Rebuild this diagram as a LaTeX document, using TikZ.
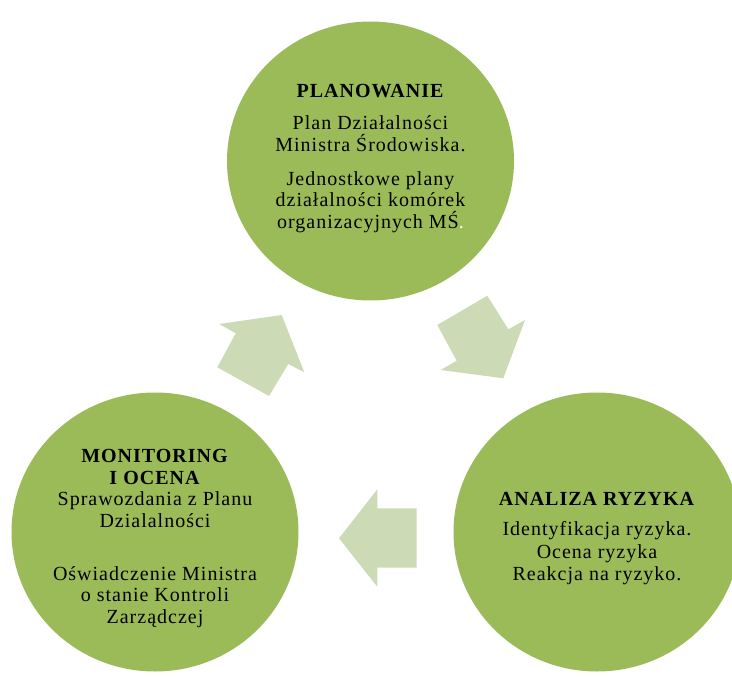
\documentclass[tikz,border=0pt]{standalone}
\usepackage{fontspec}
\setmainfont{Liberation Serif}[LetterSpace=5]
\usetikzlibrary{shapes.geometric}
\definecolor{circlegreen}{HTML}{9BBB59}
\definecolor{arrowgreen}{HTML}{CDDAB6}
\tikzset{
  stage/.style={ellipse, fill=circlegreen, inner sep=0pt, minimum width=287pt, minimum height=279pt},
  stagetext/.style={anchor=north, align=center, inner sep=0pt, font=\fontsize{20}{21.5}\selectfont},
  blockarrow/.style={fill=arrowgreen}
}
\begin{document}
\begin{tikzpicture}[x=1pt, y=-1pt]
    \useasboundingbox (0,0) rectangle (732,677);
    \clip (0,0) rectangle (732,677);
    \node (P) [stage] at (370.5,161) {};
    \node (A) [stage] at (597,532) {};
    \node (M) [stage] at (155,532) {};
    % block arrows
    \fill[blockarrow] (437.3,325) -- (487.3,295.7) -- (508.3,329.3) -- (525,320) -- (503.3,378.3) -- (440.7,370) -- (456.7,360.7) -- cycle;
    \fill[blockarrow] (416.7,508.3) -- (377.3,508.3) -- (377.3,489.3) -- (339,538.3) -- (377.3,586.7) -- (377.3,567.7) -- (416.7,567.7) -- cycle;
    \fill[blockarrow] (269,396) -- (288.3,364) -- (304.3,372.3) -- (281.7,315) -- (219.3,324) -- (235.7,333.3) -- (217.3,367.3) -- cycle;
    % texts
    \node (PT) [stagetext] at (370.5,84.5) {\textbf{PLANOWANIE}\\[10.5pt]
      Plan Działalności\\ Ministra Środowiska.\\[12.5pt]
      Jednostkowe plany\\ działalności komórek\\ organizacyjnych MŚ{\color{white}.}};
    \node (AT) [stagetext] at (597,492.5) {\textbf{ANALIZA RYZYKA}\\[8.5pt]
      Identyfikacja ryzyka.\\[1pt] Ocena ryzyka\\[1pt] Reakcja na ryzyko.};
    \node (MT) [stagetext] at (155,449.5) {\textbf{MONITORING}\\ \textbf{I OCENA}\\
      Sprawozdania z Planu\\ Dzialalności\\[31.5pt]
      Oświadczenie Ministra\\ o stanie Kontroli\\ Zarządczej};
\end{tikzpicture}
\end{document}
